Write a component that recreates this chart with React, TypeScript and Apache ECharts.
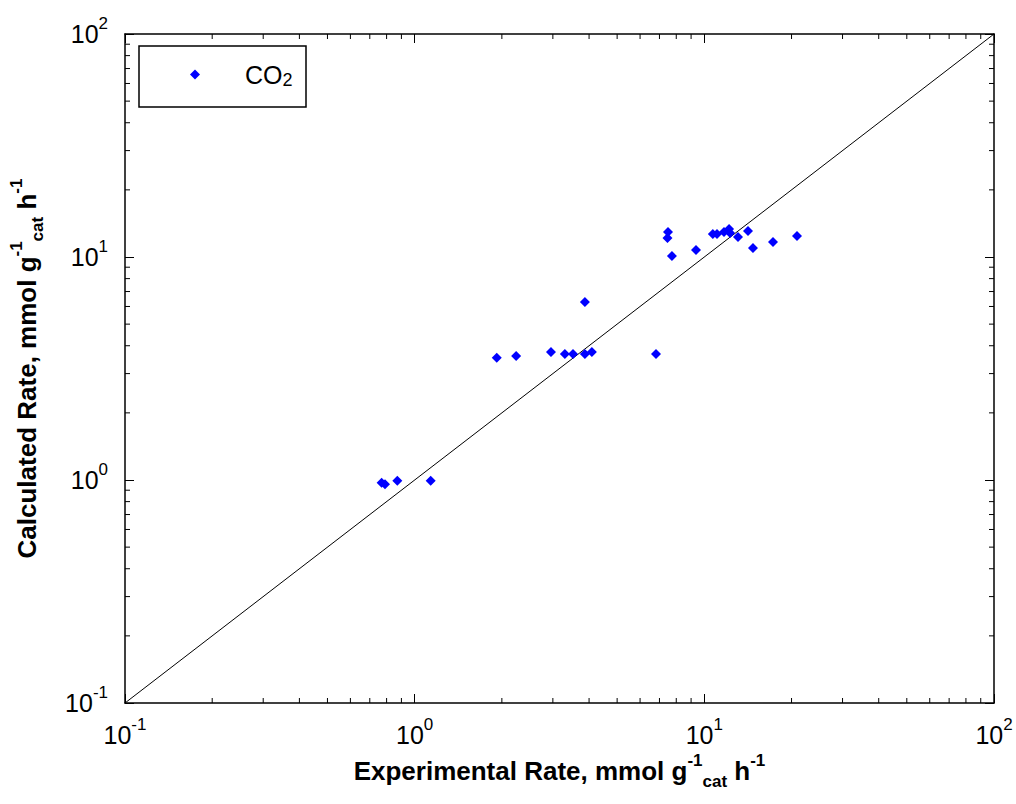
import React, { useEffect, useRef } from "react";
import * as echarts from "echarts";

// Experimental rate (x) and calculated rate (y), mmol g_cat^-1 h^-1
const experimental = [
  0.769, 0.79, 0.871, 1.136, 1.92, 2.24, 2.955, 3.3, 3.52, 3.87, 4.09, 3.87, 6.81,
  7.49, 7.46, 7.73, 9.36, 10.7, 11.06, 11.69, 12.17, 12.27, 13.07, 14.15, 14.72,
  17.26, 20.89,
];
const calculated = [
  0.973, 0.957, 0.993, 0.993, 3.53, 3.6, 3.75, 3.67, 3.67, 3.67, 3.75, 6.29, 3.67,
  12.94, 12.17, 10.1, 10.75, 12.68, 12.68, 12.94, 13.36, 12.81, 12.29, 13.08, 10.97,
  11.67, 12.42,
];
const parityLine = [0.1, 100];
const axisMin = 0.1;
const axisMax = 100;
const minorTickValues = [
  0.2, 0.3, 0.4, 0.5, 0.6, 0.7, 0.8, 0.9, 2, 3, 4, 5, 6, 7, 8, 9, 20, 30, 40, 50,
  60, 70, 80, 90,
];
const seriesName = "CO2";

const font = '"Liberation Sans", Arial, sans-serif';

const tickRich = {
  b: { fontFamily: font, fontSize: 25, lineHeight: 38, color: "#000" },
  sup: { fontFamily: font, fontSize: 17, lineHeight: 17, color: "#000", verticalAlign: "top" as const },
};
const titleBase = { fontFamily: font, fontSize: 26, fontWeight: "bold" as const, lineHeight: 38, color: "#000" };
const small = { fontFamily: font, fontSize: 17, fontWeight: "bold" as const, lineHeight: 17, color: "#000" };
const titleRich = {
  b: { ...titleBase },
  sup: { ...small, verticalAlign: "top" as const },
  sub: { ...small, verticalAlign: "bottom" as const },
};

const powerLabel = (v: number) => `{b|10}{sup|${Math.round(Math.log10(v))}}`;

export default function App() {
  const ref = useRef<HTMLDivElement>(null);
  useEffect(() => {
    document.body.style.margin = "0";
    const chart = echarts.init(ref.current!, null, { renderer: "svg" });
    const axisLine = { show: true, lineStyle: { color: "#000", width: 1.5 } };
    const axisTick = { show: true, inside: true, length: 9, lineStyle: { color: "#000", width: 1 } };
    const option: any = {
      animation: false,
      backgroundColor: "#fff",
      grid: { left: 125, right: 22, top: 34, bottom: 101 },
      legend: {
        data: [seriesName],
        left: 190,
        top: 62,
        padding: 0,
        itemWidth: 10,
        itemHeight: 10,
        icon: "diamond",
        itemStyle: { color: "#0000ff", opacity: 1 },
        formatter: () => "{a|CO}{s|2}",
        textStyle: {
          rich: {
            a: { fontFamily: font, fontSize: 25, lineHeight: 28, color: "#000", padding: [0, 0, 0, 40] },
            s: { fontFamily: font, fontSize: 18, lineHeight: 18, color: "#000", verticalAlign: "bottom" },
          },
        },
      },
      graphic: [
        {
          type: "rect",
          shape: { x: 139, y: 46, width: 167, height: 61 },
          style: { fill: "none", stroke: "#000", lineWidth: 1.5 },
          z: 100,
        },
      ],
      xAxis: [
        {
          type: "log",
          logBase: 10,
          min: axisMin,
          max: axisMax,
          position: "bottom",
          axisLine,
          axisTick,
          splitLine: { show: false },
          axisLabel: { formatter: powerLabel, rich: tickRich, margin: 13 },
          name: "{b|Experimental Rate, mmol g}{sup|-1}{sub|cat}{b| h}{sup|-1}",
          nameLocation: "middle",
          nameGap: 42,
          nameTextStyle: { ...titleBase, rich: titleRich },
        },
        {
          type: "log",
          logBase: 10,
          min: axisMin,
          max: axisMax,
          position: "top",
          axisLine,
          axisTick,
          splitLine: { show: false },
          axisLabel: { show: false },
        },
      ],
      yAxis: [
        {
          type: "log",
          logBase: 10,
          min: axisMin,
          max: axisMax,
          position: "left",
          axisLine,
          axisTick,
          splitLine: { show: false },
          axisLabel: { formatter: powerLabel, rich: tickRich, margin: 17 },
          name: "{b|Calculated Rate, mmol g}{sup|-1}{sub|cat}{b| h}{sup|-1}",
          nameLocation: "middle",
          nameGap: 79,
          nameTextStyle: { ...titleBase, rich: titleRich },
        },
        {
          type: "log",
          logBase: 10,
          min: axisMin,
          max: axisMax,
          position: "right",
          axisLine,
          axisTick,
          splitLine: { show: false },
          axisLabel: { show: false },
        },
      ],
      series: [
        {
          type: "custom",
          silent: true,
          clip: false,
          xAxisIndex: 0,
          yAxisIndex: 0,
          data: minorTickValues.map((v) => [v, v]),
          renderItem: (params: any, api: any) => {
            const v = api.value(0);
            const b = api.coord([v, axisMin]);
            const t = api.coord([v, axisMax]);
            const l = api.coord([axisMin, v]);
            const r = api.coord([axisMax, v]);
            const st = { stroke: "#000", lineWidth: 1 };
            const len = 5;
            return {
              type: "group",
              children: [
                { type: "line", shape: { x1: b[0], y1: b[1], x2: b[0], y2: b[1] - len }, style: st },
                { type: "line", shape: { x1: t[0], y1: t[1], x2: t[0], y2: t[1] + len }, style: st },
                { type: "line", shape: { x1: l[0], y1: l[1], x2: l[0] + len, y2: l[1] }, style: st },
                { type: "line", shape: { x1: r[0], y1: r[1], x2: r[0] - len, y2: r[1] }, style: st },
              ],
            };
          },
        },
        {
          type: "line",
          data: parityLine.map((v) => [v, v]),
          symbol: "none",
          lineStyle: { color: "#000", width: 1 },
          silent: true,
        },
        {
          name: seriesName,
          type: "scatter",
          symbol: "diamond",
          symbolSize: 10,
          itemStyle: { color: "#0000ff", opacity: 1 },
          data: experimental.map((x, i) => [x, calculated[i]]),
          z: 5,
        },
      ],
    };
    chart.setOption(option);
    return () => chart.dispose();
  }, []);
  return <div ref={ref} style={{ width: 1016, height: 804 }} />;
}
